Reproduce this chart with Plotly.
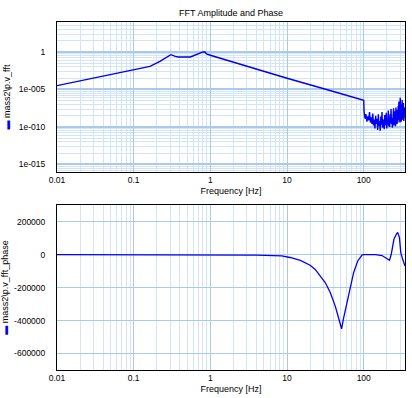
import math
import plotly.graph_objects as go

# ---------------- data ----------------
# amplitude: smooth part (frequency [Hz], log10 amplitude)
amp_freq = [0.01, 0.1, 0.163, 0.22, 0.285, 0.305, 0.35, 0.38, 0.55, 0.67, 0.8, 0.85,
            0.89, 1.0, 3.3, 10, 33.6, 100]
amp_log = [-4.49, -2.45, -1.92, -1.25, -0.49, -0.36, -0.59, -0.67, -0.67, -0.36, 0.02, 0.0,
           -0.27, -0.43, -2.05, -3.5, -5.04, -6.45]

# amplitude: noisy tail above 100 Hz (frequency [Hz], log10 amplitude)
noise_freq = [101, 104, 107, 110, 113, 116, 119, 122, 125, 128,
              131, 134, 137, 140, 143, 146, 149, 152, 155, 158, 161,
              164, 167, 170, 173, 176, 179, 182, 185, 188, 191, 194,
              197, 200, 203, 206, 209, 212, 215, 218, 221, 224, 227,
              230, 233, 236, 239, 242, 245, 248, 251, 254, 257, 260,
              263, 266, 269, 272, 275, 278,
              281, 284, 287, 290, 293, 296, 299, 302, 305, 308, 311,
              314, 317, 320, 323, 326, 329, 332, 335, 338, 341, 345]
noise_log = [-7.9, -8.9, -8.3, -9.3, -8.6, -9.1, -8.0, -9.4, -8.7, -9.6,
             -8.2, -9.8, -9.0, -10.2, -8.5, -9.6, -8.9, -10.4, -8.3, -9.9, -9.2,
             -10.5, -8.6, -9.7, -8.0, -10.1, -9.3, -9.0, -10.3, -8.4, -9.8, -9.1,
             -8.1, -10.2, -9.0, -9.7, -7.8, -9.9, -8.7, -10.0, -8.3, -9.5, -7.6,
             -9.6, -8.8, -10.1, -8.0, -9.3, -7.5, -9.8, -8.5, -9.2, -7.9, -9.9,
             -7.4, -9.0, -8.6, -9.6, -7.7, -9.4,
             -7.2, -9.1, -6.6, -8.8, -7.9, -9.4, -6.1, -8.6, -7.5, -9.3, -7.0,
             -8.4, -6.4, -9.0, -7.8, -8.7, -6.8, -9.2, -7.3, -8.5, -7.6, -7.4]

# phase (frequency [Hz], value)
phase_freq = [0.01, 3.9, 4.0, 8.5, 11, 14.9, 20, 23.3, 27.1, 31.6, 36.7, 42.6, 47, 51.4,
              54.6, 60.4, 66.9, 73.8, 83.4, 95.5, 100, 142, 173, 217, 228, 248, 267,
              277, 292, 304, 322, 345]
phase_val = [0, 0, -4000, -8000, -18000, -35000, -65000, -90000, -131000, -171000,
             -232000, -314000, -385000, -450000, -385000, -294000, -202000, -110000,
             -39000, -2000, 0, 0, -6000, -35000, 0, 94000, 124000, 134000, 104000,
             12000, -29000, -70000]

x_tickvals = [0.01, 0.1, 1, 10, 100]
x_ticktext = ["0.01", "0.1", "1", "10", "100"]
amp_tickvals = [1e-15, 1e-10, 1e-5, 1]
amp_ticktext = ["1e-015", "1e-010", "1e-005", "1"]
phase_tickvals = [200000, 0, -200000, -400000, -600000]
phase_ticktext = ["200000", "0", "-200000", "-400000", "-600000"]

# ---------------- styling ----------------
BLUE = "#0000f4"
MINOR = "#d2e4f8"
MAJOR = "#aac9ec"
FONT = "Liberation Sans, Arial, sans-serif"

amp_x = amp_freq + noise_freq
amp_y = [10 ** v for v in amp_log + noise_log]

x_minor = [m * 10 ** e for e in range(-2, 3) for m in range(2, 10)]
amp_minor = [10 ** (e + 5 * math.log10(k)) for e in range(-20, 5, 5) for k in range(2, 10)]

fig = go.Figure()
fig.add_trace(go.Scatter(x=amp_x, y=amp_y, mode="lines", xaxis="x", yaxis="y",
                         line=dict(color=BLUE, width=1.4), showlegend=False))
fig.add_trace(go.Scatter(x=phase_freq, y=phase_val, mode="lines", xaxis="x2", yaxis="y2",
                         line=dict(color=BLUE, width=1.3), showlegend=False))

xcommon = dict(type="log", range=[-2, 2.538], tickmode="array", tickvals=x_tickvals,
               ticktext=x_ticktext, showgrid=True, gridcolor=MAJOR, gridwidth=1,
               minor=dict(tickmode="array", tickvals=x_minor, showgrid=True,
                          gridcolor=MINOR, gridwidth=1, ticks=""),
               showline=True, linecolor="black", linewidth=1, mirror=True,
               ticks="", zeroline=False, automargin=False,
               tickfont=dict(size=8.5, color="black"),
               title=dict(text="Frequency [Hz]", font=dict(size=9, color="black"), standoff=3))

fig.update_layout(
    width=412, height=398,
    margin=dict(l=57, r=7, t=22, b=28, autoexpand=False),
    paper_bgcolor="white", plot_bgcolor="white",
    font=dict(family=FONT, color="black"),
    title=dict(text="FFT Amplitude and Phase", x=0.5, xref="paper", xanchor="center",
               y=0.975, yref="container", automargin=False,
               font=dict(size=9, color="black")),
    showlegend=False,
    xaxis=dict(domain=[0, 1], anchor="y", **xcommon),
    xaxis2=dict(domain=[0, 1], anchor="y2", **xcommon),
    yaxis=dict(domain=[0.569, 1], anchor="x", type="log", range=[-16, 4],
               tickmode="array", tickvals=amp_tickvals, ticktext=amp_ticktext,
               showgrid=True, gridcolor=MAJOR, gridwidth=1.5,
               minor=dict(tickmode="array", tickvals=amp_minor, showgrid=True,
                          gridcolor=MINOR, gridwidth=1, ticks=""),
               showline=True, linecolor="black", linewidth=1, mirror=True,
               ticks="", ticklabelstandoff=9, zeroline=False, automargin=False,
               tickfont=dict(size=8.5, color="black"),
               title=dict(text="<span style='color:#0000f4'>\u25ac</span> mass2\\p.v_fft",
                          font=dict(size=9, color="black"), standoff=6)),
    yaxis2=dict(domain=[0, 0.474], anchor="x2", range=[-700000, 300000],
                tickmode="array", tickvals=phase_tickvals, ticktext=phase_ticktext,
                showgrid=True, gridcolor=MAJOR, gridwidth=1,
                showline=True, linecolor="black", linewidth=1, mirror=True,
                ticks="", ticklabelstandoff=9, zeroline=False, automargin=False,
                tickfont=dict(size=8.5, color="black"),
                title=dict(text="<span style='color:#0000f4'>\u25ac</span> mass2\\p.v_fft_phase",
                           font=dict(size=9, color="black"), standoff=6)),
)

fig.write_html("out.html", config={"displayModeBar": False},
               post_script="document.body.style.margin='0';")
